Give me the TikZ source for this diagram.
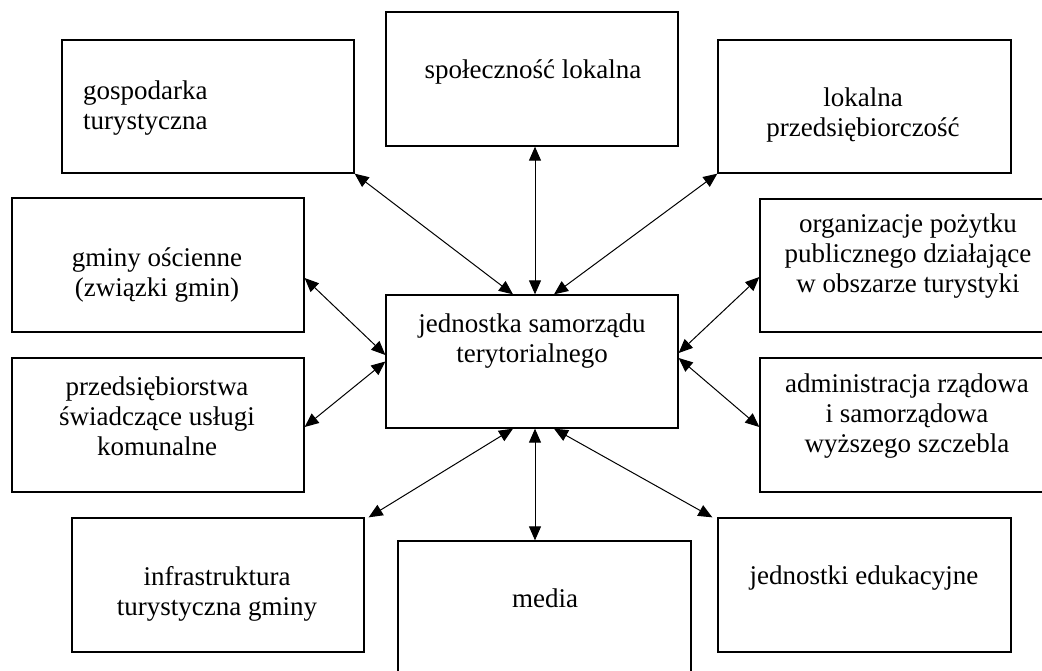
\documentclass[tikz,border=0pt]{standalone}
\usepackage{fontspec}
\setmainfont{Liberation Serif}
\usetikzlibrary{arrows.meta}
\tikzset{
  box/.style={draw, line width=1.3pt, inner sep=0pt},
  lbl/.style={inner sep=0pt, align=center, font=\fontsize{27}{30}\selectfont},
  link/.style={line width=1pt, {Triangle[length=14pt,width=12pt]}-{Triangle[length=14pt,width=12pt]}}
}
\begin{document}
\begin{tikzpicture}[x=1pt,y=-1pt]
\useasboundingbox (0,0) rectangle (1042,670);
\clip (0,0) rectangle (1042,670);
\fill[white] (0,0) rectangle (1042,670);
% boxes
\node[box, minimum width=292pt, minimum height=134pt] (spol) at (532,79) {};
\node[box, minimum width=292pt, minimum height=133pt] (gosp) at (208,106.5) {};
\node[box, minimum width=293pt, minimum height=133pt] (lokal) at (864.5,106.5) {};
\node[box, minimum width=292pt, minimum height=134pt] (gminy) at (158,265) {};
\node[box, minimum width=290pt, minimum height=133pt] (org) at (905,265.5) {};
\node[box, minimum width=292pt, minimum height=133pt] (jst) at (532,361.5) {};
\node[box, minimum width=292pt, minimum height=134pt] (przed) at (158,425) {};
\node[box, minimum width=290pt, minimum height=134pt] (admin) at (905,425) {};
\node[box, minimum width=292pt, minimum height=134pt] (infra) at (218,585) {};
\node[box, minimum width=293pt, minimum height=139pt] (media) at (544.5,610.5) {};
\node[box, minimum width=293pt, minimum height=134pt] (edu) at (864.5,585) {};
% texts
\node[lbl] (tspol) at (533,71.5) {społeczność lokalna};
\node[lbl, align=left, anchor=west] (tgosp) at (83,108.5) {gospodarka\\turystyczna};
\node[lbl] (tlokal) at (863,115.5) {lokalna\\przedsiębiorczość};
\node[lbl] (tgminy) at (157,275.5) {gminy ościenne\\(związki gmin)};
\node[lbl] (torg) at (908,256) {organizacje pożytku\\publicznego działające\\w obszarze turystyki};
\node[lbl] (tjst) at (532,341) {jednostka samorządu\\terytorialnego};
\node[lbl] (tprzed) at (157,416.5) {przedsiębiorstwa\\świadczące usługi\\komunalne};
\node[lbl] (tadmin) at (907,416.5) {administracja rządowa\\i samorządowa\\wyższego szczebla};
\node[lbl] (tinfra) at (217,593.5) {infrastruktura\\turystyczna gminy};
\node[lbl] (tmedia) at (545,598.5) {media};
\node[lbl] (tedu) at (864,578.5) {jednostki edukacyjne};
% connectors
\draw[link] (gosp.south east) -- ([xshift=-19pt]jst.north);
\draw[link] ([xshift=3pt]spol.south) -- ([xshift=3pt]jst.north);
\draw[link] (lokal.south west) -- ([xshift=22pt]jst.north);
\draw[link] ([yshift=-13pt]gminy.east) -- ([yshift=6.5pt]jst.west);
\draw[link] ([yshift=-2pt]przed.east) -- ([yshift=0pt]jst.west);
\draw[link] ([yshift=-11.5pt]org.west) -- ([yshift=8.5pt]jst.east);
\draw[link] ([yshift=-2pt]admin.west) -- ([yshift=3.5pt]jst.east);
\draw[link] ([xshift=4pt]infra.north east) -- ([xshift=-19pt]jst.south);
\draw[link] ([xshift=3pt]jst.south) -- ([xshift=-9.5pt]media.north);
\draw[link] ([xshift=-5pt]edu.north west) -- ([xshift=22pt]jst.south);
\end{tikzpicture}
\end{document}
